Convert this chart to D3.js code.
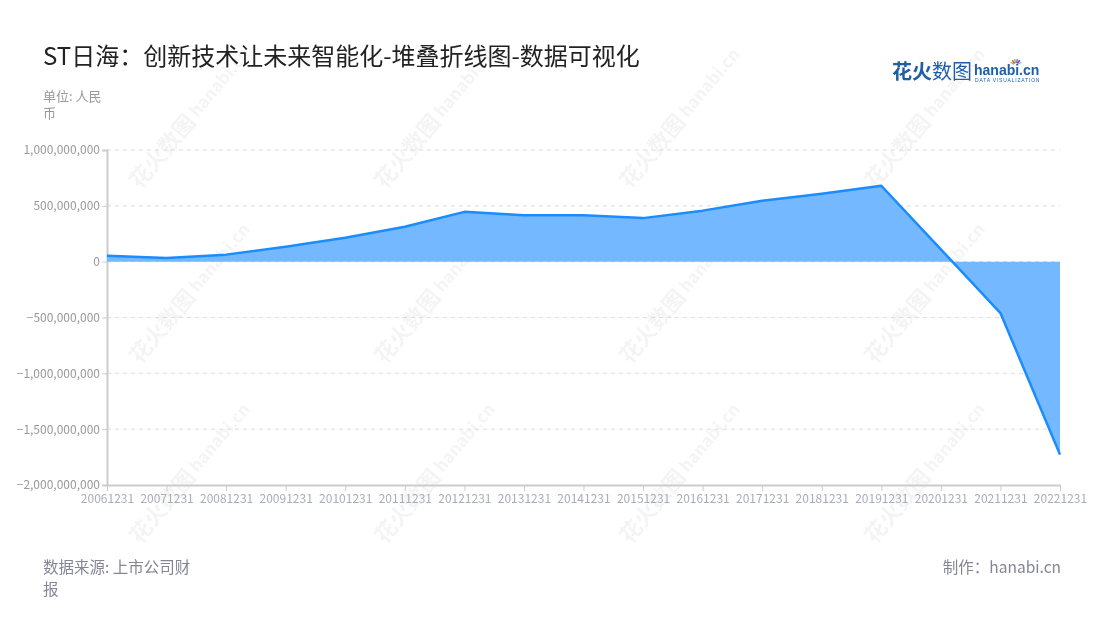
<!DOCTYPE html>
<html><head><meta charset="utf-8">
<script src="https://cdn.jsdelivr.net/npm/d3@7"></script>
<style>
body{margin:0;background:#fff;}
svg{font-family:"Noto Sans CJK SC","Noto Sans",sans-serif;}
</style></head>
<body>
<svg id="c" width="1100" height="620"></svg>
<script>
const categories = ["20061231","20071231","20081231","20091231","20101231","20111231","20121231","20131231","20141231","20151231","20161231","20171231","20181231","20191231","20201231","20211231","20221231"];
const values = [54e6, 32e6, 63e6, 134e6, 215e6, 313e6, 446e6, 416e6, 416e6, 390e6, 457e6, 546e6, 609e6, 680e6, 110e6, -460e6, -1728e6];
const yTicks = [1e9, 5e8, 0, -5e8, -1e9, -1.5e9, -2e9];

const svg = d3.select("#c");
const m = {l:107, r:1060, t:150, b:485};
const x = d3.scalePoint().domain(categories).range([m.l, m.r]);
const y = d3.scaleLinear().domain([-2e9, 1e9]).range([m.b, m.t]);

// watermarks
const wmPos = [];
[140, 385, 630, 875].forEach(cx => [190, 365, 545].forEach(cy => wmPos.push([cx, cy])));
const wm = svg.append("g").attr("opacity", 0.045);
wmPos.forEach(([cx, cy]) => {
  const g = wm.append("g").attr("transform", `translate(${cx},${cy}) rotate(-50)`);
  g.append("text").attr("x", 0).attr("y", 0).attr("font-size", 22).attr("font-weight", "bold").attr("fill", "#000").text("花火数图");
  g.append("text").attr("x", 92).attr("y", -2).attr("font-size", 17).attr("font-weight", "bold").attr("fill", "#000").text("hanabi.cn");
});

// grid
svg.append("g").selectAll("line").data(yTicks.filter(d => d !== -2e9)).join("line")
  .attr("x1", m.l).attr("x2", m.r).attr("y1", d => y(d)).attr("y2", d => y(d))
  .attr("stroke", "#ddd").attr("stroke-dasharray", "4,4");

// y axis
const yAxis = d3.axisLeft(y).tickValues(yTicks).tickFormat(d3.format(",")).tickSize(5);
const ya = svg.append("g").attr("transform", `translate(${m.l},0)`).call(yAxis);
ya.select(".domain").attr("stroke", "#ccc").attr("stroke-width", 2);
ya.selectAll(".tick line").attr("stroke", "#ccc");
ya.selectAll("text").attr("fill", "#999").attr("font-size", 12).attr("font-family", "'Noto Sans CJK SC','Noto Sans',sans-serif").attr("x", -7);

// x axis
const xAxis = d3.axisBottom(x).tickSize(6).tickSizeOuter(0);
const xa = svg.append("g").attr("transform", `translate(0,${m.b})`).call(xAxis);
xa.select(".domain").attr("stroke", "#ccc").attr("stroke-width", 2);
xa.selectAll(".tick line").attr("stroke", "#ccc");
xa.selectAll("text").attr("fill", "#a9adbb").attr("font-size", 12).attr("font-family", "'Noto Sans CJK SC','Noto Sans',sans-serif").attr("y", 9).attr("dy", "0.71em");

// area & line
const data = categories.map((c, i) => ({c, v: values[i]}));
svg.append("path").datum(data)
  .attr("d", d3.area().x(d => x(d.c)).y0(y(0)).y1(d => y(d.v)))
  .attr("fill", "#74b9ff");
svg.append("path").datum(data)
  .attr("d", d3.line().x(d => x(d.c)).y(d => y(d.v)))
  .attr("fill", "none").attr("stroke", "#1a8cff").attr("stroke-width", 2.5).attr("stroke-linejoin", "round");

// title
svg.append("text").attr("x", 43).attr("y", 65).attr("font-size", 24).attr("fill", "#222")
  .text("ST日海：创新技术让未来智能化-堆叠折线图-数据可视化");
svg.append("text").attr("x", 43).attr("y", 101).attr("font-size", 13).attr("fill", "#999").text("单位: 人民");
svg.append("text").attr("x", 43).attr("y", 118).attr("font-size", 13).attr("fill", "#999").text("币");

// footer
svg.append("text").attr("x", 43).attr("y", 573).attr("font-size", 15.5).attr("fill", "#858596").text("数据来源: 上市公司财");
svg.append("text").attr("x", 43).attr("y", 595).attr("font-size", 15.5).attr("fill", "#858596").text("报");
svg.append("text").attr("x", 1061).attr("y", 573).attr("font-size", 15.5).attr("fill", "#858596").attr("text-anchor", "end").text("制作：hanabi.cn");

// logo
const lg = svg.append("g");
lg.append("text").attr("x", 892).attr("y", 79).attr("font-size", 20).attr("font-weight", "bold").attr("fill", "#1f5fa8").text("花火");
lg.append("text").attr("x", 932).attr("y", 79).attr("font-size", 20).attr("fill", "#1f5fa8").text("数图");
lg.append("text").attr("x", 974).attr("y", 75).attr("font-size", 14).attr("font-weight", "bold").attr("fill", "#1f5fa8").attr("font-family", "Arial, Liberation Sans, sans-serif").text("hanabi.cn");
lg.append("text").attr("x", 975).attr("y", 82).attr("font-size", 5).attr("fill", "#1f5fa8").attr("letter-spacing", 0.8).attr("font-family", "Arial, Liberation Sans, sans-serif").text("DATA VISUALIZATION");
const colors = ["#f5a623","#e94e77","#7ed321","#4a90e2","#bd10e0","#50e3c2"];
colors.forEach((c, i) => {
  const a = -Math.PI / 2 + (i - 2.5) * 0.45;
  lg.append("line").attr("x1", 1016 + Math.cos(a) * 2).attr("y1", 65 + Math.sin(a) * 2)
    .attr("x2", 1016 + Math.cos(a) * 6).attr("y2", 65 + Math.sin(a) * 6)
    .attr("stroke", c).attr("stroke-width", 1.5);
});
</script>
</body></html>
